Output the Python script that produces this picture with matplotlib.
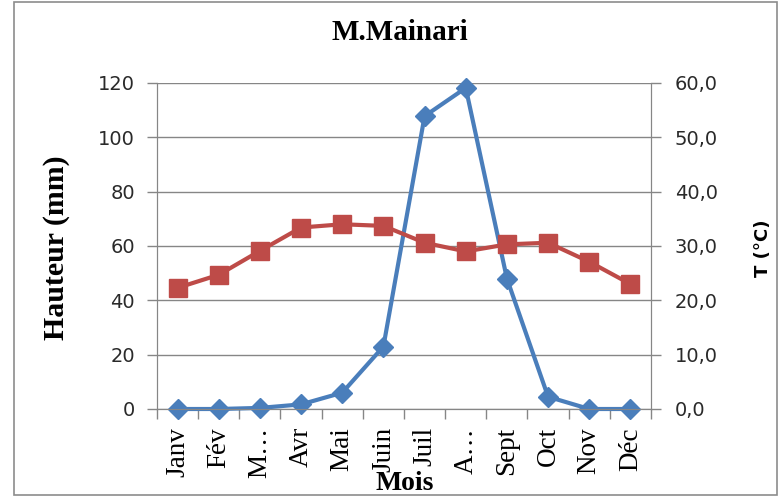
import matplotlib.pyplot as plt
import numpy as np
from matplotlib.patches import Rectangle

# données
mois = ['Janv', 'Fév', 'M\u2026', 'Avr', 'Mai', 'Juin', 'Juil', 'A\u2026', 'Sept', 'Oct', 'Nov', 'Déc']
hauteur = [0, 0, 0.4, 1.7, 6, 23, 107.8, 118.2, 48, 4.5, 0, 0]       # mm
temperature = [22.3, 24.7, 29.1, 33.4, 34.0, 33.7, 30.6, 29.0, 30.3, 30.6, 27.1, 23.0]  # °C
ticks_h = [0, 20, 40, 60, 80, 100, 120]
ticks_t = [0, 10, 20, 30, 40, 50, 60]

W, H = 783, 497
bleu = '#4A7EBB'
rouge = '#BE4B48'
gris = '#868686'
serif = 'Liberation Serif'

fig = plt.figure(figsize=(W / 100, H / 100), dpi=100)
fig.patches.append(Rectangle((14 / W, 1 - 495 / H), (777 - 14) / W, (495 - 2) / H,
                             transform=fig.transFigure, fill=False,
                             edgecolor='#8c8c8c', lw=1.2))

ax = fig.add_axes([157 / W, 1 - 409 / H, (651 - 157) / W, (409 - 83) / H])
x = np.arange(len(mois))
ax.plot(x, hauteur, color=bleu, lw=3, marker='D', ms=10, clip_on=False, zorder=3)
ax.set_xlim(-0.5, 11.5)
ax.set_ylim(0, 120)
ax.set_yticks(ticks_h)
ax.set_yticklabels([str(v) for v in ticks_h], family='DejaVu Sans', fontsize=14, color='#2a2a2a')
ax.grid(axis='y', color=gris, lw=1)
ax.set_axisbelow(True)
ax.set_xticks(x)
ax.set_xticklabels(mois, rotation=90, family=serif, fontsize=19.5, va='top')
ax.set_xticks(np.arange(-0.5, 12, 1), minor=True)
ax.tick_params(axis='x', which='major', length=0, pad=13)
ax.tick_params(axis='x', which='minor', length=7, color=gris, width=1)
ax.tick_params(axis='y', length=7, color=gris, width=1, pad=9)
for s in ['left', 'bottom', 'right']:
    ax.spines[s].set_color(gris)
ax.spines['top'].set_visible(False)

ax2 = ax.twinx()
ax2.plot(x, temperature, color=rouge, lw=3, marker='s', ms=13.5, clip_on=False, zorder=3)
ax2.set_ylim(0, 60)
ax2.set_yticks(ticks_t)
ax2.set_yticklabels([f'{v:.1f}'.replace('.', ',') for v in ticks_t],
                    family='DejaVu Sans', fontsize=14, color='#2a2a2a')
ax2.tick_params(axis='y', length=7, color=gris, width=1, pad=10)
for s in ['left', 'bottom', 'right']:
    ax2.spines[s].set_color(gris)
ax2.spines['top'].set_visible(False)

fig.text(400 / W, 1 - 33 / H, 'M.Mainari', family=serif, fontsize=21, fontweight='bold',
         ha='center', va='center')
fig.text(57 / W, 1 - 248 / H, 'Hauteur (mm)', family=serif, fontsize=21.5, fontweight='bold',
         rotation=90, ha='center', va='center')
fig.text(763 / W, 1 - 248 / H, 'T (°C)', family='DejaVu Sans', fontsize=13, fontweight='bold',
         rotation=90, ha='center', va='center')
fig.text(405 / W, 1 - 484 / H, 'Mois', family=serif, fontsize=20, fontweight='bold',
         ha='center', va='center')

fig.savefig('out.png', dpi=100)
